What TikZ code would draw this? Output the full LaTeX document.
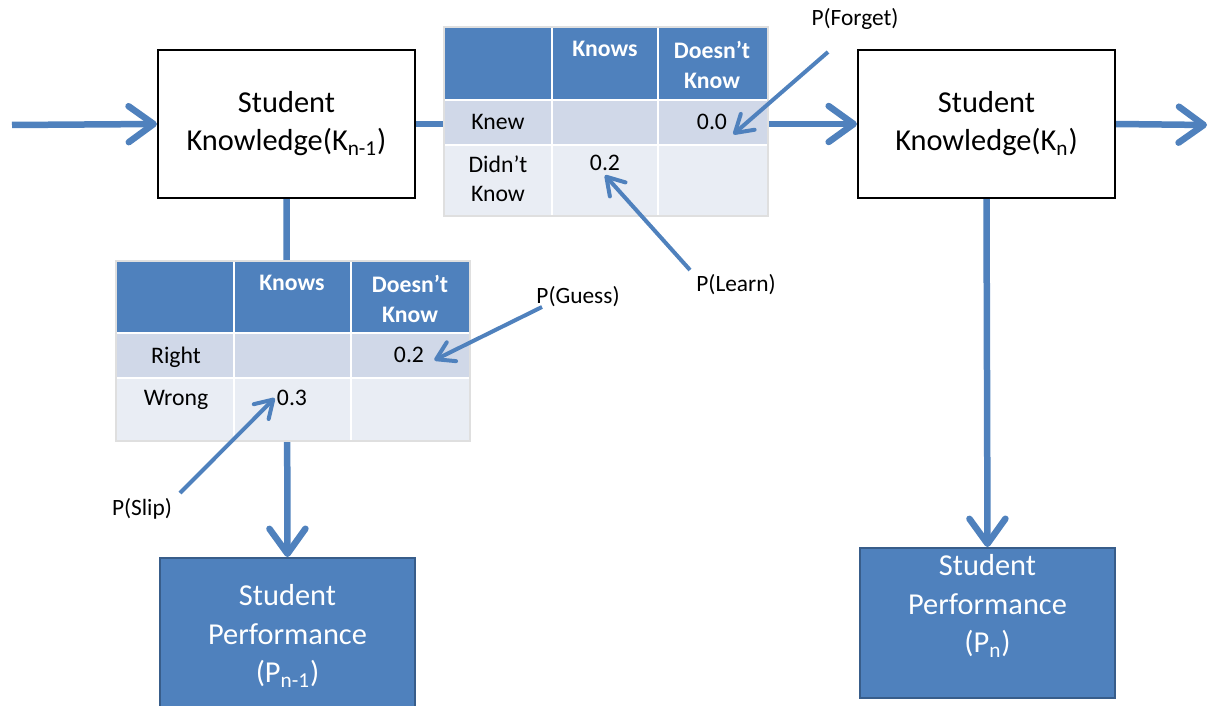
\documentclass[tikz,border=0pt]{standalone}
\usepackage{fontspec}
\setmainfont{Carlito}
\usetikzlibrary{arrows.meta}
\definecolor{ppblue}{HTML}{4F81BD}
\definecolor{ppedge}{HTML}{385D8A}
\definecolor{rowone}{HTML}{D0D8E8}
\definecolor{rowtwo}{HTML}{E9EDF4}
\begin{document}
\begin{tikzpicture}[x=0.02cm, y=-0.02cm,
  flow/.style={draw=ppblue, line width=0.13cm, -{Straight Barb[round, length=0.5cm, width=0.72cm]}},
  note/.style={draw=ppblue, line width=0.08cm, -{Straight Barb[round, length=0.34cm, width=0.42cm]}},
  knowbox/.style={draw=black, line width=0.045cm, fill=white, minimum width=5.14cm, minimum height=2.96cm, align=center, font=\fontsize{17.3}{21.6}\selectfont},
  perfbox/.style={draw=ppedge, line width=0.04cm, fill=ppblue, minimum width=5.1cm},
  perftext/.style={text=white, align=center, font=\fontsize{17.3}{21.8}\selectfont},
  head/.style={text=white, align=center, anchor=north, inner sep=0pt, font=\fontsize{13.5}{17}\selectfont\bfseries},
  cell/.style={align=center, anchor=north, inner sep=0pt, font=\fontsize{13.5}{17}\selectfont},
  tag/.style={inner sep=1pt, font=\fontsize{13.3}{15}\selectfont}]
  \clip (0,0) rectangle (1211,706);
  % knowledge and performance boxes
  \node[knowbox] (kprev) at (286.5,124) {Student\\Knowledge(K\textsubscript{n-1})};
  \node[knowbox] (know) at (986.5,124) {Student\\Knowledge(K\textsubscript{n})};
  \node[perfbox, minimum height=3.12cm] (pprev) at (287.5,636) {};
  \node[perftext] (pprevtxt) at (287.5,636) {Student\\Performance\\(P\textsubscript{n-1})};
  \node[perfbox, minimum height=3cm] (pnow) at (987.5,623) {};
  \node[perftext] (pnowtxt) at (987.5,606) {Student\\Performance\\(P\textsubscript{n})};
  \coordinate (inlet) at (12,125);
  \coordinate (outlet) at (1207,125);
  \draw[flow] (inlet) -- (kprev.west);
  \draw[flow] (kprev.east) -- (know.west);
  \draw[flow] (know.east) -- (outlet);
  \draw[flow] (kprev.south) -- (pprev.north);
  \draw[flow] (know.south) -- (pnow.north);
  % transition table
  \draw[gray!25, line width=0.04cm] (444,27) rectangle (768,216);
  \fill[ppblue] (445,28) rectangle (767,100);
  \fill[rowone] (445,100) rectangle (767,145);
  \fill[rowtwo] (445,145) rectangle (767,215);
  \draw[white, line width=0.04cm] (552,28) -- (552,215) (658,28) -- (658,215)
    (445,100) -- (767,100) (445,145) -- (767,145);
  \node[head] (tknows) at (605,41) {Knows};
  \node[head] (tdoesnt) at (712,41) {Doesn’t\\Know};
  \node[cell] (knew) at (498,114) {Knew};
  \node[cell] (forgetval) at (712,114) {0.0};
  \node[cell] (didnt) at (498,155) {Didn’t\\Know};
  \node[cell] (learnval) at (605,155) {0.2};
  % emission table
  \draw[gray!25, line width=0.04cm] (116,261) rectangle (470,441);
  \fill[ppblue] (117,262) rectangle (469,333);
  \fill[rowone] (117,333) rectangle (469,378);
  \fill[rowtwo] (117,378) rectangle (469,440);
  \draw[white, line width=0.04cm] (234,262) -- (234,440) (351,262) -- (351,440)
    (117,333) -- (469,333) (117,378) -- (469,378);
  \node[head] (eknows) at (292,275) {Knows};
  \node[head] (edoesnt) at (410,275) {Doesn’t\\Know};
  \node[cell] (right) at (176,347) {Right};
  \node[cell] (guessval) at (409,347) {0.2};
  \node[cell] (wrong) at (176,390) {Wrong};
  \node[cell] (slipval) at (292,390) {0.3};
  % parameter labels
  \node[tag] (forget) at (855,19) {P(Forget)};
  \node[tag] (learn) at (736,285) {P(Learn)};
  \node[tag] (guess) at (578,297) {P(Guess)};
  \node[tag] (slip) at (142,509) {P(Slip)};
  \coordinate (forgetstart) at (828,52);
  \coordinate (learnstart) at (690,270);
  \coordinate (guessstart) at (542,307);
  \coordinate (slipstart) at (180,493);
  \draw[note] (forgetstart) -- ([xshift=0.12cm, yshift=-0.08cm]forgetval.south east);
  \draw[note] (learnstart) -- ([yshift=-0.08cm]learnval.south);
  \draw[note] (guessstart) -- ([xshift=0.2cm, yshift=-0.1cm]guessval.east);
  \draw[note] (slipstart) -- ([xshift=-0.04cm]slipval.west);
\end{tikzpicture}
\end{document}
